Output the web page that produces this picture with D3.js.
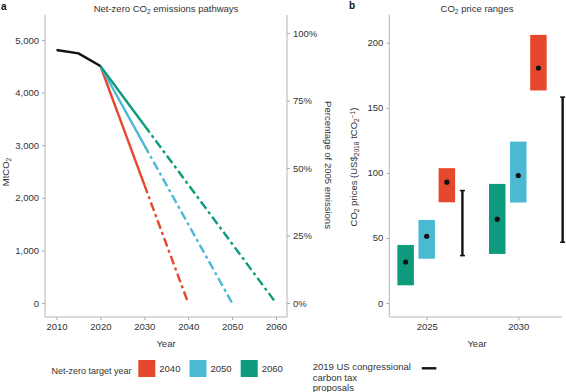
<!DOCTYPE html>
<html>
<head>
<meta charset="utf-8">
<script src="https://cdn.jsdelivr.net/npm/d3@7"></script>
<style>
  body { margin: 0; background: #fff; }
  svg { font-family: "Liberation Sans", Arial, sans-serif; }
  .tick text { fill: #333; font-size: 9.5px; }
  .tick line { stroke: #aaa; }
</style>
</head>
<body>
<div id="chart"></div>
<script>
// ---- panel a data ----
var historyYears = [2010, 2015, 2020];
var historyValues = [4810, 4745, 4505];
var targetYears = [2040, 2050, 2060];
var value2030 = [2250, 3000, 3380];   // where the solid part ends
var base2005 = 5130;                  // MtCO2 equal to 100%
var yearTicksA = [2010, 2020, 2030, 2040, 2050, 2060];
var mtTicks = [0, 1000, 2000, 3000, 4000, 5000];
var pctTicks = [0, 0.25, 0.5, 0.75, 1];

// ---- panel b data ----
var priceYears = [2025, 2030];
var priceTargets = [2060, 2050, 2040];
var priceLow = {2060: [13.6, 37.7], 2050: [34, 77.2], 2040: [77.4, 163.3]};
var priceHigh = {2060: [44.6, 91.5], 2050: [63.8, 124], 2040: [103.6, 206]};
var priceMid = {2060: [31.5, 64.4], 2050: [51.3, 97.9], 2040: [92.8, 180.5]};
var proposalLow = [36.4, 46.7];
var proposalHigh = [86.4, 158.2];
var priceTicks = [0, 50, 100, 150, 200];

var colors = {2040: "#e5482d", 2050: "#4cb9d3", 2060: "#0e9b7d"};
var ink = "#333";
var axisGrey = "#b5b5b5";

var svg = d3.select("#chart").append("svg")
    .attr("width", 566)
    .attr("height", 392);

function addSubText(sel, parts) {
    // parts: [text, mode] with mode "", "sub" or "sup"
    parts.forEach(function (p) {
        var t = sel.append("tspan").text(p[0]);
        if (p[1] == "sub") t.attr("baseline-shift", "-25%").attr("font-size", "70%");
        if (p[1] == "sup") t.attr("baseline-shift", "35%").attr("font-size", "70%");
    });
}

function styleAxis(g) {
    g.select(".domain").remove();
    g.selectAll(".tick line").attr("stroke", "#aaa");
}

// ================= panel a =================
var xa = d3.scaleLinear().domain([2010, 2060]).range([56.5, 276]);
var ya = d3.scaleLinear().domain([0, 5000]).range([303, 40]);
var pa = d3.scaleLinear().domain([0, 1]).range([ya(0), ya(base2005)]);

var frameA = {left: 45, right: 287, top: 15, bottom: 317};

svg.append("path")
    .attr("d", "M" + frameA.left + "," + frameA.top + "V" + frameA.bottom + "H" + frameA.right + "V" + frameA.top)
    .attr("fill", "none").attr("stroke", axisGrey).attr("stroke-width", 1);

svg.append("g").attr("transform", "translate(" + frameA.left + ",0)")
    .call(d3.axisLeft(ya).tickValues(mtTicks).tickSize(3).tickPadding(3).tickFormat(d3.format(",")))
    .call(styleAxis);

svg.append("g").attr("transform", "translate(" + frameA.right + ",0)")
    .call(d3.axisRight(pa).tickValues(pctTicks).tickSize(3).tickPadding(3).tickFormat(d3.format(".0%")))
    .call(styleAxis);

svg.append("g").attr("transform", "translate(0," + frameA.bottom + ")")
    .call(d3.axisBottom(xa).tickValues(yearTicksA).tickSize(3).tickPadding(3).tickFormat(d3.format("d")))
    .call(styleAxis);

var lineA = d3.line().x(function (d) { return xa(d[0]); }).y(function (d) { return ya(d[1]); });

targetYears.forEach(function (t, i) {
    var start = [2020, historyValues[historyValues.length - 1]];
    var mid = [2030, value2030[i]];
    svg.append("path")
        .attr("d", lineA([start, mid]))
        .attr("fill", "none").attr("stroke", colors[t]).attr("stroke-width", 2.4);
    svg.append("path")
        .attr("d", lineA([mid, [t, 0]]))
        .attr("fill", "none").attr("stroke", colors[t]).attr("stroke-width", 2.4)
        .attr("stroke-dasharray", "9,3.5,3,3.5");
});

svg.append("path")
    .attr("d", lineA(historyYears.map(function (y, i) { return [y, historyValues[i]]; })))
    .attr("fill", "none").attr("stroke", "#111").attr("stroke-width", 2.4)
    .attr("stroke-linejoin", "round");

svg.append("text").attr("x", 1).attr("y", 10)
    .attr("font-weight", "bold").attr("font-size", 10).attr("fill", "#111").text("a");

var titleA = svg.append("text").attr("x", 166).attr("y", 12)
    .attr("text-anchor", "middle").attr("font-size", 9.5).attr("fill", ink);
addSubText(titleA, [["Net-zero CO", ""], ["2", "sub"], [" emissions pathways", ""]]);

var ylabA = svg.append("text")
    .attr("transform", "translate(9,172) rotate(-90)")
    .attr("text-anchor", "middle").attr("font-size", 9.5).attr("fill", ink);
addSubText(ylabA, [["MtCO", ""], ["2", "sub"]]);

svg.append("text")
    .attr("transform", "translate(325,165) rotate(90)")
    .attr("text-anchor", "middle").attr("font-size", 9.5).attr("fill", ink)
    .text("Percentage of 2005 emissions");

svg.append("text").attr("x", 166).attr("y", 347)
    .attr("text-anchor", "middle").attr("font-size", 9.5).attr("fill", ink).text("Year");

// legend a
svg.append("text").attr("x", 51.5).attr("y", 373.5)
    .attr("font-size", 9).attr("fill", ink).text("Net-zero target year");

var legA = svg.selectAll(".lega").data(targetYears).enter().append("g")
    .attr("class", "lega")
    .attr("transform", function (d, i) { return "translate(" + (138.3 + i * 51.2) + ",360)"; });
legA.append("rect").attr("width", 17).attr("height", 17)
    .attr("fill", function (d) { return colors[d]; });
legA.append("text").attr("x", 21).attr("y", 12)
    .attr("font-size", 9.5).attr("fill", ink).text(function (d) { return d; });

// ================= panel b =================
var xb = d3.scaleLinear().domain([2025, 2030]).range([426.7, 518.3]);
var yb = d3.scaleLinear().domain([0, 200]).range([303, 42.7]);
var barOffset = {2060: -1.15, 2050: 0, 2040: 1.1};
var barWidth = 0.9;
var proposalOffset = [1.95, 2.42];

var frameB = {left: 389.3, right: 562, top: 15, bottom: 317};

svg.append("path")
    .attr("d", "M" + frameB.left + "," + frameB.top + "V" + frameB.bottom + "H" + frameB.right)
    .attr("fill", "none").attr("stroke", axisGrey).attr("stroke-width", 1);

svg.append("g").attr("transform", "translate(" + frameB.left + ",0)")
    .call(d3.axisLeft(yb).tickValues(priceTicks).tickSize(3).tickPadding(3))
    .call(styleAxis);

svg.append("g").attr("transform", "translate(0," + frameB.bottom + ")")
    .call(d3.axisBottom(xb).tickValues(priceYears).tickSize(3).tickPadding(3).tickFormat(d3.format("d")))
    .call(styleAxis);

var bars = [];
priceYears.forEach(function (yr, j) {
    priceTargets.forEach(function (t) {
        bars.push({year: yr, target: t, low: priceLow[t][j], high: priceHigh[t][j], mid: priceMid[t][j]});
    });
});

svg.selectAll(".pbar").data(bars).enter().append("rect")
    .attr("class", "pbar")
    .attr("x", function (d) { return xb(d.year + barOffset[d.target] - barWidth / 2); })
    .attr("width", function (d) { return xb(2025 + barWidth) - xb(2025); })
    .attr("y", function (d) { return yb(d.high); })
    .attr("height", function (d) { return yb(d.low) - yb(d.high); })
    .attr("fill", function (d) { return colors[d.target]; });

svg.selectAll(".pdot").data(bars).enter().append("circle")
    .attr("class", "pdot")
    .attr("cx", function (d) { return xb(d.year + barOffset[d.target]); })
    .attr("cy", function (d) { return yb(d.mid); })
    .attr("r", 2.6)
    .attr("fill", "#111");

var props = priceYears.map(function (yr, j) {
    return {x: yr + proposalOffset[j], low: proposalLow[j], high: proposalHigh[j]};
});
var pg = svg.selectAll(".prop").data(props).enter().append("g").attr("class", "prop");
pg.append("line")
    .attr("x1", function (d) { return xb(d.x); }).attr("x2", function (d) { return xb(d.x); })
    .attr("y1", function (d) { return yb(d.low); }).attr("y2", function (d) { return yb(d.high); })
    .attr("stroke", "#111").attr("stroke-width", 2.4);
["low", "high"].forEach(function (k) {
    pg.append("line")
        .attr("x1", function (d) { return xb(d.x) - 2.5; }).attr("x2", function (d) { return xb(d.x) + 2.5; })
        .attr("y1", function (d) { return yb(d[k]); }).attr("y2", function (d) { return yb(d[k]); })
        .attr("stroke", "#111").attr("stroke-width", 1.5);
});

svg.append("text").attr("x", 349).attr("y", 9)
    .attr("font-weight", "bold").attr("font-size", 10).attr("fill", "#111").text("b");

var titleB = svg.append("text").attr("x", 477).attr("y", 12)
    .attr("text-anchor", "middle").attr("font-size", 9.5).attr("fill", ink);
addSubText(titleB, [["CO", ""], ["2", "sub"], [" price ranges", ""]]);

var ylabB = svg.append("text")
    .attr("transform", "translate(357,167) rotate(-90)")
    .attr("text-anchor", "middle").attr("font-size", 9.5).attr("fill", ink);
addSubText(ylabB, [["CO", ""], ["2", "sub"], [" prices (US$", ""], ["2018", "sub"],
    [" tCO", ""], ["2", "sub"], ["\u22121", "sup"], [")", ""]]);

svg.append("text").attr("x", 477).attr("y", 347)
    .attr("text-anchor", "middle").attr("font-size", 9.5).attr("fill", ink).text("Year");

// legend b
var legB = svg.append("text").attr("x", 312.7).attr("y", 370)
    .attr("font-size", 9.5).attr("fill", ink);
["2019 US congressional", "carbon tax", "proposals"].forEach(function (s, i) {
    legB.append("tspan").attr("x", 312.7).attr("dy", i == 0 ? 0 : 10.7).text(s);
});
svg.append("line").attr("x1", 421.8).attr("x2", 436.3).attr("y1", 368.3).attr("y2", 368.3)
    .attr("stroke", "#111").attr("stroke-width", 2.4);
</script>
</body>
</html>
